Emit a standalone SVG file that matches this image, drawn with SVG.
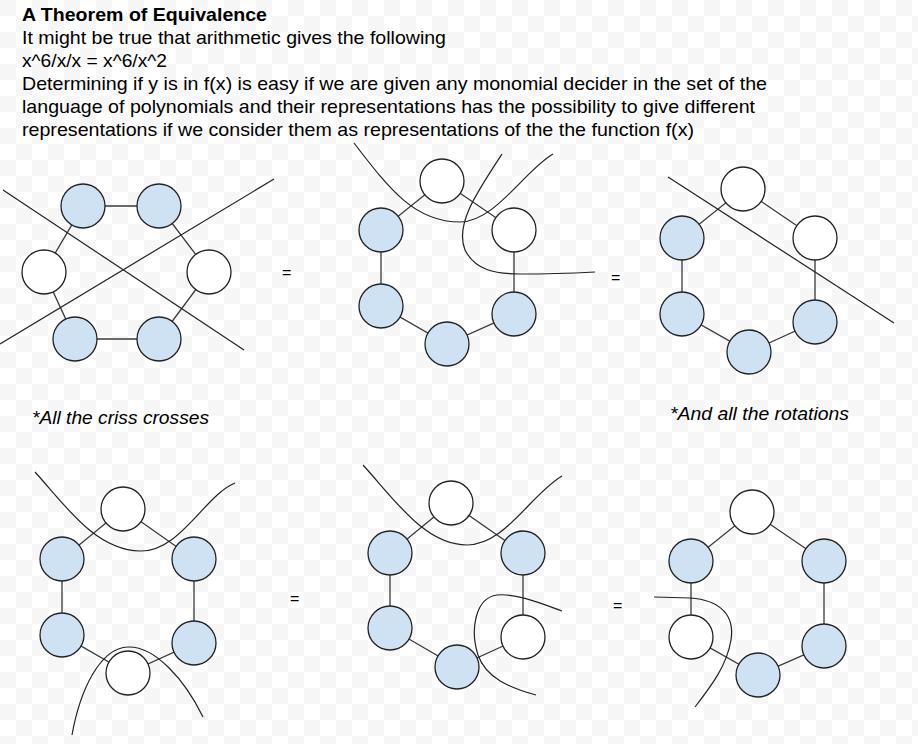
<svg xmlns="http://www.w3.org/2000/svg" width="918" height="744" viewBox="0 0 918 744">
<defs>
<pattern id="chk" width="32" height="32" patternUnits="userSpaceOnUse">
<rect width="32" height="32" fill="#ffffff"/>
<rect width="16" height="16" fill="#f6f6f6"/>
<rect x="16" y="16" width="16" height="16" fill="#f6f6f6"/>
</pattern>
<style>
.t{font-family:"Liberation Sans",Arial,sans-serif;font-size:19px;fill:#000}
.b{font-weight:bold}
.i{font-style:italic}
.eq{font-family:"Liberation Sans",Arial,sans-serif;font-size:16px;fill:#000}
.n{stroke:#222;stroke-width:1.3}
.blue{fill:#cfe2f3}
.white{fill:#ffffff}
.e{stroke:#3a3a3a;stroke-width:1.3;fill:none}
.c{stroke:#222;stroke-width:1.2;fill:none}
</style>
</defs>
<rect width="918" height="744" fill="url(#chk)"/>
<g id="text">
<text class="t b" x="22" y="21" textLength="245" lengthAdjust="spacingAndGlyphs">A Theorem of Equivalence</text>
<text class="t" x="22" y="44" textLength="424" lengthAdjust="spacingAndGlyphs">It might be true that arithmetic gives the following</text>
<text class="t" x="22" y="67" textLength="145" lengthAdjust="spacingAndGlyphs">x^6/x/x = x^6/x^2</text>
<text class="t" x="22" y="90" textLength="745" lengthAdjust="spacingAndGlyphs">Determining if y is in f(x) is easy if we are given any monomial decider in the set of the</text>
<text class="t" x="22" y="113" textLength="733" lengthAdjust="spacingAndGlyphs">language of polynomials and their representations has the possibility to give different</text>
<text class="t" x="22" y="136" textLength="672" lengthAdjust="spacingAndGlyphs">representations if we consider them as representations of the the function f(x)</text>
<text class="t i" x="32" y="424" textLength="177" lengthAdjust="spacingAndGlyphs">*All the criss crosses</text>
<text class="t i" x="670" y="420" textLength="179" lengthAdjust="spacingAndGlyphs">*And all the rotations</text>
<text class="eq" x="282" y="278">=</text>
<text class="eq" x="611" y="283">=</text>
<text class="eq" x="290" y="604">=</text>
<text class="eq" x="613" y="611">=</text>
</g>
<g id="connectors">
<path class="e" d="M83,206 L159,206 L209,272 L159,339 L75,339 L44,272 Z"/>
<path class="e" d="M442,181 L514,230 L514,314 L447,344 L381,306 L381,230 Z"/>
<path class="e" d="M743,189 L815,238 L815,322 L749,352 L682,314 L682,238 Z"/>
<path class="e" d="M123,509 L194,559 L194,643 L128,673 L62,635 L62,559 Z"/>
<path class="e" d="M451,503 L523,553 L523,637 L457,667 L390,628 L390,553 Z"/>
<path class="e" d="M752,512 L824,561 L824,646 L758,675 L691,637 L691,561 Z"/>
</g>
<g id="node-d1">
<circle class="n blue" cx="83" cy="206" r="22"/>
<circle class="n blue" cx="159" cy="206" r="22"/>
<circle class="n white" cx="44" cy="272" r="22"/>
<circle class="n white" cx="209" cy="272" r="22"/>
<circle class="n blue" cx="75" cy="339" r="22"/>
<circle class="n blue" cx="159" cy="339" r="22"/>
</g>
<g id="node-d2">
<circle class="n white" cx="442" cy="181" r="22"/>
<circle class="n blue" cx="381" cy="230" r="22"/>
<circle class="n white" cx="514" cy="230" r="22"/>
<circle class="n blue" cx="381" cy="306" r="22"/>
<circle class="n blue" cx="447" cy="344" r="22"/>
<circle class="n blue" cx="514" cy="314" r="22"/>
</g>
<g id="node-d3">
<circle class="n white" cx="743" cy="189" r="22"/>
<circle class="n blue" cx="682" cy="238" r="22"/>
<circle class="n white" cx="815" cy="238" r="22"/>
<circle class="n blue" cx="682" cy="314" r="22"/>
<circle class="n blue" cx="749" cy="352" r="22"/>
<circle class="n blue" cx="815" cy="322" r="22"/>
</g>
<g id="node-d4">
<circle class="n white" cx="123" cy="509" r="22"/>
<circle class="n blue" cx="62" cy="559" r="22"/>
<circle class="n blue" cx="194" cy="559" r="22"/>
<circle class="n blue" cx="62" cy="635" r="22"/>
<circle class="n blue" cx="194" cy="643" r="22"/>
<circle class="n white" cx="128" cy="673" r="22"/>
</g>
<g id="node-d5">
<circle class="n white" cx="451" cy="503" r="22"/>
<circle class="n blue" cx="390" cy="553" r="22"/>
<circle class="n blue" cx="523" cy="553" r="22"/>
<circle class="n blue" cx="390" cy="628" r="22"/>
<circle class="n blue" cx="457" cy="667" r="22"/>
<circle class="n white" cx="523" cy="637" r="22"/>
</g>
<g id="node-d6">
<circle class="n white" cx="752" cy="512" r="22"/>
<circle class="n blue" cx="691" cy="561" r="22"/>
<circle class="n blue" cx="824" cy="561" r="22"/>
<circle class="n white" cx="691" cy="637" r="22"/>
<circle class="n blue" cx="758" cy="675" r="22"/>
<circle class="n blue" cx="824" cy="646" r="22"/>
</g>
<g id="cuts">
<path class="c" d="M3,190 L244,350"/>
<path class="c" d="M0,344 L274,179"/>
<path class="c" d="M354,143 C390,190 415,222 460,222 C495,222 525,170 553,154"/>
<path class="c" d="M502,154 C475,195 455,225 465,250 C475,270 495,274 520,274 C550,274 575,273 595,272"/>
<path class="c" d="M668,177 L894,323"/>
<path class="c" d="M35,472 C65,505 95,550 140,551 C180,552 205,495 235,483"/>
<path class="c" d="M72,735 C80,690 100,648 128,647 C155,646 185,680 203,717"/>
<path class="c" d="M363,465 C395,500 425,545 467,545 C505,545 530,495 562,476"/>
<path class="c" d="M562,611 C540,603 515,593 497,595 C475,598 470,630 478,655 C486,678 510,688 536,695"/>
<path class="c" d="M654,597 L690,598 C720,600 735,615 731,640 C727,665 712,685 695,707"/>
</g>
</svg>
